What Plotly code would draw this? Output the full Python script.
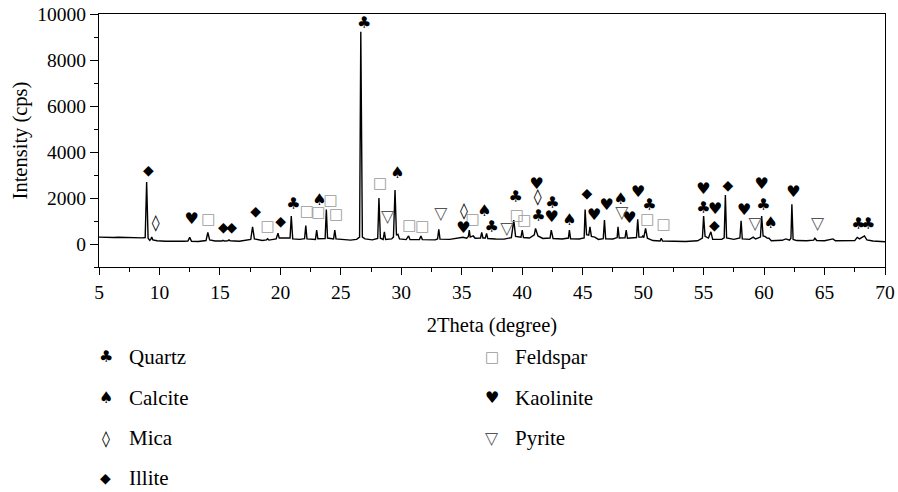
import plotly.graph_objects as go

# ---------------- XRD pattern (vertices) ----------------
two_theta = [
    5.0, 5.4, 5.8, 6.2, 6.6, 7.0, 7.4, 7.8, 8.2, 8.6, 8.82, 8.94, 9.06, 9.2, 9.3, 9.36, 9.45, 9.8,
    10.5, 11.2, 12.0, 12.35, 12.5, 12.65, 13.2, 13.85, 14.0, 14.15, 14.6, 15.15, 15.25, 15.35,
    15.65, 15.75, 15.85, 16.6, 17.55, 17.7, 17.85, 18.5, 18.85, 18.95, 19.05, 19.65, 19.8, 19.9,
    20.8, 20.9, 21.02, 21.6, 22.0, 22.1, 22.2, 22.9, 23.0, 23.1, 23.7, 23.8, 23.9, 24.4, 24.5,
    24.6, 25.2, 25.8, 26.3, 26.55, 26.65, 26.78, 27.0, 27.6, 28.05, 28.15, 28.27, 28.5, 28.6,
    28.7, 29.2, 29.35, 29.48, 29.6, 29.72, 29.85, 30.4, 30.6, 30.72, 31.5, 31.62, 31.74, 32.8,
    33.0, 33.1, 33.2, 34.0, 34.6, 35.1, 35.4, 35.55, 35.62, 35.7, 35.95, 36.1, 36.55, 36.65,
    36.75, 36.95, 37.05, 37.15, 37.8, 38.5, 39.1, 39.3, 39.45, 39.9, 40.0, 40.1, 40.6, 41.0,
    41.1, 41.3, 41.7, 42.3, 42.4, 42.55, 43.3, 43.82, 43.9, 44.0, 44.7, 45.12, 45.2, 45.32,
    45.5, 45.6, 45.72, 46.0, 46.3, 46.7, 46.8, 46.9, 47.5, 47.85, 47.92, 48.02, 48.5, 48.6,
    48.7, 49.0, 49.45, 49.55, 49.65, 49.9, 49.97, 50.05, 50.2, 50.35, 50.8, 51.4, 51.5, 51.6,
    52.5, 53.5, 54.5, 54.9, 55.0, 55.12, 55.4, 55.6, 55.75, 56.5, 56.7, 56.8, 56.9, 57.5, 58.0,
    58.1, 58.2, 58.8, 59.1, 59.3, 59.7, 59.8, 59.92, 60.1, 60.25, 60.4, 60.6, 61.5, 61.8, 62.1,
    62.22, 62.3, 62.4, 62.7, 63.5, 64.1, 64.2, 64.35, 65.0, 65.7, 65.9, 66.8, 67.5, 67.7, 67.9,
    68.3, 68.5, 69.0, 70.0,
]
intensity = [
    300, 290, 310, 280, 295, 285, 300, 275, 280, 265, 280, 2700, 250, 160, 220, 300, 180, 140,
    120, 110, 120, 130, 290, 120, 110, 150, 500, 180, 130, 130, 160, 130,
    140, 180, 140, 120, 200, 750, 220, 150, 180, 230, 170, 220, 470, 260,
    260, 1220, 220, 200, 230, 800, 220, 200, 600, 230, 240, 1500, 260, 220, 600,
    220, 180, 170, 200, 300, 9230, 300, 220, 180, 240, 2000, 250, 200, 530,
    200, 220, 300, 2350, 380, 420, 220, 190, 350, 190, 190, 350, 190, 180,
    220, 640, 210, 200, 250, 290, 250, 330, 600, 300, 350, 250, 260, 500,
    260, 260, 460, 240, 220, 210, 280, 1040, 330, 300, 600, 280, 260, 400,
    680, 350, 240, 260, 600, 240, 220, 260, 600, 230, 220, 260, 1500, 400,
    380, 750, 330, 300, 200, 230, 1040, 230, 220, 280, 750, 260, 270, 600,
    250, 260, 280, 1070, 300, 300, 350, 280, 680, 250, 150, 130, 250, 130,
    110, 110, 140, 260, 1220, 330, 260, 530, 200, 200, 270, 2130, 260, 200, 260,
    1010, 220, 200, 300, 220, 300, 1220, 350, 320, 260, 250, 140, 160, 220, 170,
    250, 1730, 200, 150, 140, 170, 250, 150, 140, 220, 140, 130, 150, 290, 220,
    350, 180, 130, 100,
]

# ---------------- phase markers (glyph positions) ----------------
quartz_x = [21.07, 26.92, 37.48, 39.46, 41.33, 42.49, 50.51, 54.98, 59.94, 67.8, 68.6]
quartz_y = [1700, 9570, 680, 1990, 1190, 1730, 1650, 1510, 1650, 830, 830]

calcite_x = [23.22, 29.67, 36.87, 43.9, 48.15, 60.55]
calcite_y = [1870, 3040, 1410, 1010, 1910, 870]

mica_x = [9.69, 35.19, 41.28]
mica_y = [870, 1380, 1990]

illite_x = [9.08, 15.28, 15.97, 17.96, 20.03, 45.34, 55.9, 57.0]
illite_y = [3140, 680, 680, 1360, 930, 2160, 750, 2490]

feldspar_x = [14.04, 18.95, 22.18, 23.14, 24.16, 24.6, 28.24, 30.66, 31.74, 35.9, 39.55, 40.17, 50.35, 51.68]
feldspar_y = [1040, 750, 1400, 1330, 1870, 1260, 2610, 780, 750, 1040, 1220, 1000, 1040, 830]

kaolinite_x = [12.67, 35.13, 41.2, 42.44, 45.95, 46.99, 48.86, 49.58, 54.98, 55.95, 58.35, 59.81, 62.43]
kaolinite_y = [1040, 650, 2570, 1120, 1230, 1650, 1090, 2200, 2350, 1480, 1430, 2570, 2230]

pyrite_x = [28.87, 33.26, 38.72, 48.23, 59.26, 64.42]
pyrite_y = [1150, 1290, 640, 1330, 830, 830]

x_tick_vals = [5, 10, 15, 20, 25, 30, 35, 40, 45, 50, 55, 60, 65, 70]
y_tick_vals = [0, 2000, 4000, 6000, 8000, 10000]
y_tick_text = ["0", "2000", "4000", "6000", "8000", "10000"]

SERIF = "Liberation Serif, Tinos, Times, DejaVu Serif, serif"
SYM = "DejaVu Sans"

phases = [
    ("Quartz", "\u2663", quartz_x, quartz_y, "#000000", 16),
    ("Calcite", "\u2660", calcite_x, calcite_y, "#000000", 16),
    ("Mica", "\u25CA", mica_x, mica_y, "#000000", 16),
    ("Illite", "\u25C6", illite_x, illite_y, "#000000", 14),
    ("Feldspar", "\u25A1", feldspar_x, feldspar_y, "#9a9a9a", 15),
    ("Kaolinite", "\u2665", kaolinite_x, kaolinite_y, "#000000", 16),
    ("Pyrite", "\u25BD", pyrite_x, pyrite_y, "#555555", 17),
]

fig = go.Figure()
fig.add_trace(go.Scatter(x=two_theta, y=intensity, mode="lines",
                         line=dict(color="black", width=1.4), showlegend=False,
                         hoverinfo="skip"))

for name, glyph, xs, ys, col, sz in phases:
    fig.add_trace(go.Scatter(x=xs, y=ys, mode="text", text=[glyph] * len(xs),
                             textposition="middle center",
                             textfont=dict(family=SYM, size=sz, color=col),
                             name=name, showlegend=False))

# manual legend below the plot
glyph_of = {p[0]: (p[1], p[4], p[5]) for p in phases}
left_rows = ["Quartz", "Calcite", "Mica", "Illite"]
right_rows = ["Feldspar", "Kaolinite", "Pyrite"]
row_y = [-0.3545, -0.5166, -0.677, -0.833]
for col_names, sx, tx in [(left_rows, 0.0089, 0.0356), (right_rows, 0.4996, 0.5263)]:
    for i, nm in enumerate(col_names):
        g, c, s = glyph_of[nm]
        fig.add_annotation(x=sx, y=row_y[i], xref="paper", yref="paper", text=g,
                           showarrow=False, xanchor="center", yanchor="middle",
                           font=dict(family=SYM, size=s, color=c))
        fig.add_annotation(x=tx, y=row_y[i], xref="paper", yref="paper", text=nm,
                           showarrow=False, xanchor="left", yanchor="middle",
                           font=dict(family=SERIF, size=21, color="black"))

fig.update_layout(
    width=898, height=492,
    margin=dict(l=99, r=13, t=14, b=225),
    paper_bgcolor="white", plot_bgcolor="white",
    font=dict(family=SERIF, size=19, color="black"),
    showlegend=False,
)
fig.update_xaxes(
    range=[5, 70], tickvals=x_tick_vals, ticks="outside", ticklen=7, tickwidth=1.2,
    tickcolor="black", showline=True, linecolor="black", linewidth=1.3, mirror=True,
    showgrid=False, zeroline=False, automargin=False,
    minor=dict(dtick=2.5, tick0=5, ticks="outside", ticklen=4, tickwidth=1.2, tickcolor="black"),
    title=dict(text="2Theta (degree)", font=dict(family=SERIF, size=20.5), standoff=16),
    tickfont=dict(family=SERIF, size=19.5),
)
fig.update_yaxes(
    range=[-1000, 10000], tickvals=y_tick_vals, ticktext=y_tick_text, ticks="outside",
    ticklen=8, tickwidth=1.2,
    tickcolor="black", showline=True, linecolor="black", linewidth=1.3, mirror=True,
    showgrid=False, zeroline=False, automargin=False,
    minor=dict(dtick=1000, tick0=0, ticks="outside", ticklen=4, tickwidth=1.2, tickcolor="black"),
    title=dict(text="Intensity (cps)", font=dict(family=SERIF, size=20.5), standoff=4),
    tickfont=dict(family=SERIF, size=19.5),
)

fig.write_html("out.html", config={"displayModeBar": False},
               post_script="document.body.style.margin='0';document.body.style.padding='0';")
